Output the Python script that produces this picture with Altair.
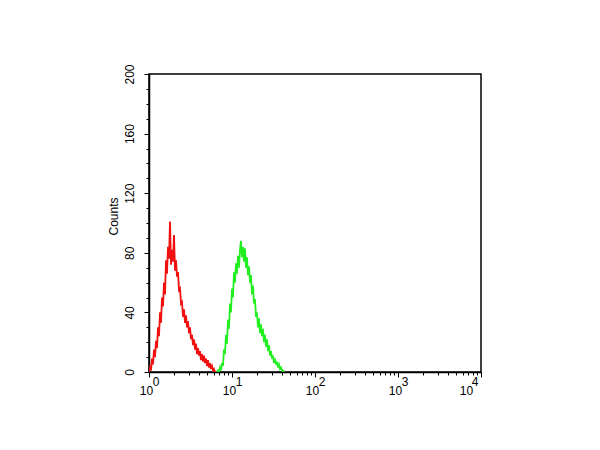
import altair as alt
import pandas as pd

# Histogram counts (one value per bin)
red_counts = [0, 3, 1, 9, 5, 15, 10, 21, 16, 30, 24, 40, 33, 50, 44, 60, 52, 75, 66, 84,
              76, 101, 72, 82, 74, 92, 68, 75, 64, 67, 55, 56, 46, 47, 37, 42, 33, 38, 30, 34,
              26, 30, 22, 25, 18, 22, 15, 19, 12, 16, 11, 14, 8, 12, 7, 11, 6, 9, 4, 8,
              3, 6, 2, 4, 1, 2, 0, 0]
green_counts = [0, 1, 0, 3, 1, 6, 4, 15, 12, 25, 19, 35, 29, 46, 40, 56, 50, 67, 60, 73,
                66, 78, 70, 82, 88, 77, 84, 74, 83, 70, 77, 65, 71, 60, 65, 52, 58, 46, 49, 37,
                40, 30, 36, 26, 32, 24, 29, 20, 25, 17, 22, 14, 18, 11, 14, 9, 11, 6, 9, 5,
                7, 3, 5, 2, 3, 1, 1, 0]
red_start_decade = 0.0
green_start_decade = 0.819
bin_width_decade = 0.01205

# x-axis decade labels (10 with superscript exponent)
decades = [1, 10, 100, 1000, 10000]
exponents = ["0", "1", "2", "3", "4"]

rows = []
for i, c in enumerate(red_counts):
    rows.append({"series": "red", "fl": 10 ** (red_start_decade + i * bin_width_decade), "count": c})
for i, c in enumerate(green_counts):
    rows.append({"series": "green", "fl": 10 ** (green_start_decade + i * bin_width_decade), "count": c})
df = pd.DataFrame(rows)
exp_df = pd.DataFrame({"fl": decades, "exp": exponents})

x_tick_values = [m * 10 ** e for e in range(4) for m in range(1, 10)] + [10000]
y_tick_values = list(range(0, 201, 10))

font = "Liberation Sans"

x_enc = alt.X("fl:Q",
              scale=alt.Scale(type="log", domain=[1, 10000], nice=False),
              axis=alt.Axis(values=x_tick_values,
                            labelExpr="indexof([1,10,100,1000,10000], datum.value) >= 0 ? '10' : ''",
                            title=None, grid=False, domainColor="black", domainWidth=1.5,
                            tickColor="black",
                            tickSize={"condition": {"test": "indexof([1,10,100,1000,10000], datum.value) >= 0", "value": 5}, "value": 3},
                            labelFontSize=12, labelFont=font,
                            labelColor="black", labelPadding=8, labelFlush=False,
                            labelOffset={"condition": {"test": "datum.value == 10000", "value": -15}, "value": -3},
                            labelOverlap=False))

lines = alt.Chart(df).mark_line(strokeWidth=1.8, clip=True).encode(
    x=x_enc,
    y=alt.Y("count:Q",
            scale=alt.Scale(domain=[0, 200], nice=False),
            axis=alt.Axis(values=y_tick_values,
                          labelExpr="datum.value % 40 == 0 ? datum.label : ''",
                          title="Counts", titleFont=font, titleFontSize=12,
                          titleFontWeight="normal", titleColor="black", titlePadding=3,
                          titleY=142,
                          grid=False, domainColor="black", domainWidth=1.5,
                          tickColor="black",
                          tickSize={"condition": {"test": "datum.value % 40 == 0", "value": 5}, "value": 3},
                          labelAngle=-90,
                          labelAlign="center", labelBaseline="bottom",
                          labelFontSize=12, labelFont=font, labelColor="black",
                          labelPadding=8, labelOverlap=False, labelFlush=False)),
    color=alt.Color("series:N",
                    scale=alt.Scale(domain=["red", "green"], range=["#f01010", "#22ee22"]),
                    legend=None),
    detail="series:N",
)

exp_main = alt.Chart(exp_df).transform_filter("datum.fl < 10000").mark_text(
    font=font, fontSize=12, color="black", dx=7, baseline="alphabetic", align="center"
).encode(x=x_enc, y=alt.value(312), text="exp:N")

exp_last = alt.Chart(exp_df).transform_filter("datum.fl == 10000").mark_text(
    font=font, fontSize=12, color="black", dx=-6, baseline="alphabetic", align="center"
).encode(x=x_enc, y=alt.value(312), text="exp:N")

chart = alt.layer(lines, exp_main, exp_last).properties(
    width=332, height=298,
    autosize=alt.AutoSizeParams(type="none"),
    padding={"left": 141, "top": 66, "right": 110, "bottom": 70},
).configure(background="white").configure_view(stroke="black", strokeWidth=1.5)

chart.save("out.html", embed_options={"renderer": "svg", "actions": False})
